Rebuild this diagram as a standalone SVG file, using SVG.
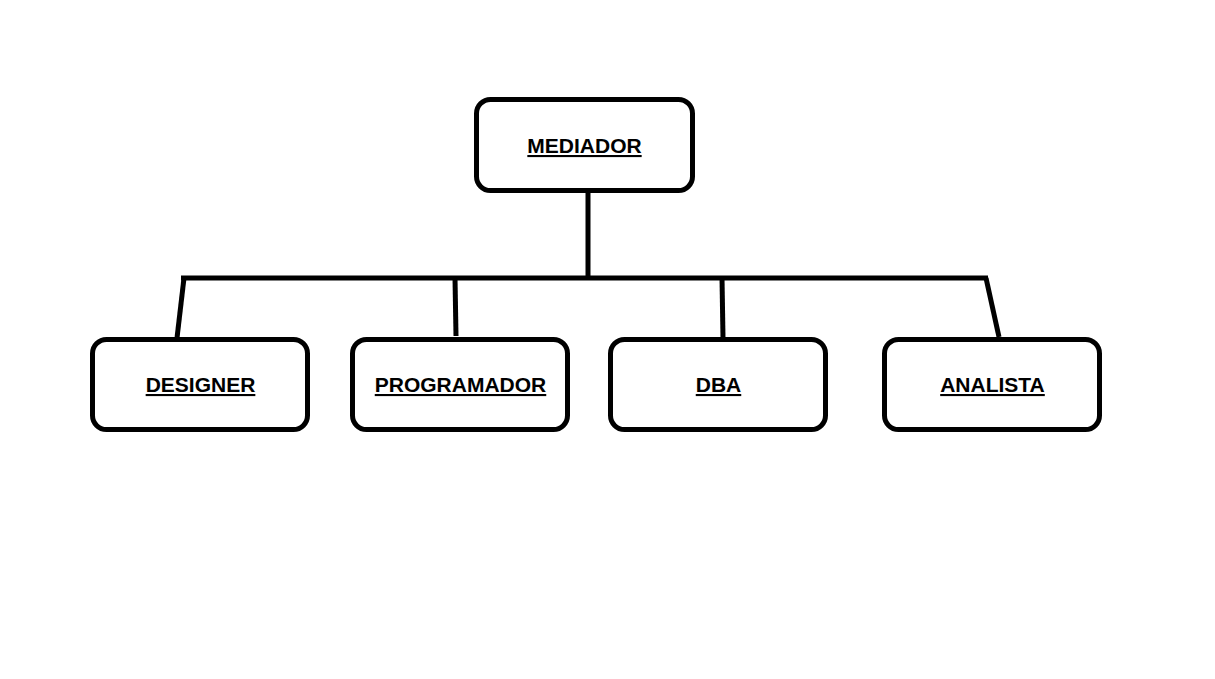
<svg xmlns="http://www.w3.org/2000/svg" width="1215" height="679" viewBox="0 0 1215 679">
<style>
.box{fill:#fff;stroke:#000;stroke-width:5}
.lbl{font-family:"Liberation Sans",Arial,sans-serif;font-weight:bold;font-size:21px;fill:#000;text-anchor:middle;text-decoration:underline}
.c{stroke:#000;stroke-width:5;fill:none}
</style>
<rect width="1215" height="679" fill="#fff"/>
<g id="connectors">
<line class="c" x1="588" y1="191" x2="588" y2="278"/>
<line class="c" x1="181" y1="278" x2="988" y2="278"/>
<line class="c" x1="184" y1="278" x2="177" y2="338"/>
<line class="c" x1="455" y1="278" x2="456" y2="336"/>
<line class="c" x1="722" y1="278" x2="723" y2="338"/>
<line class="c" x1="986" y1="278" x2="999" y2="337"/>
</g>
<g id="mediador"><rect class="box" x="476.5" y="99.5" width="216" height="91" rx="14"/><text class="lbl" x="584.5" y="153">MEDIADOR</text></g>
<g id="designer"><rect class="box" x="92.5" y="339.5" width="215" height="90" rx="14"/><text class="lbl" x="200.5" y="392">DESIGNER</text></g>
<g id="programador"><rect class="box" x="352.5" y="339.5" width="215" height="90" rx="14"/><text class="lbl" x="460.5" y="392">PROGRAMADOR</text></g>
<g id="dba"><rect class="box" x="610.5" y="339.5" width="215" height="90" rx="14"/><text class="lbl" x="718.5" y="392">DBA</text></g>
<g id="analista"><rect class="box" x="884.5" y="339.5" width="215" height="90" rx="14"/><text class="lbl" x="992.5" y="392">ANALISTA</text></g>
</svg>
